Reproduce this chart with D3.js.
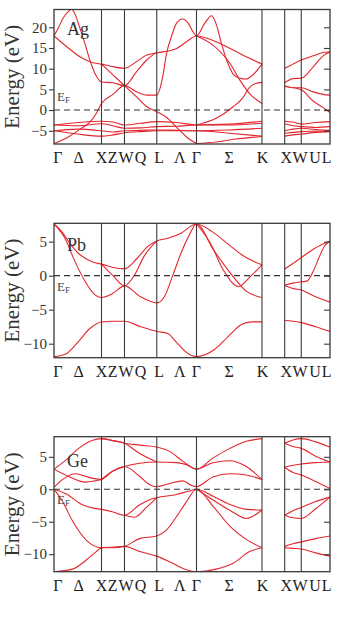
<!DOCTYPE html>
<html>
<head>
<meta charset="utf-8">
<script src="https://cdn.jsdelivr.net/npm/d3@7"></script>
<style>
  body { margin: 0; background: #fff; }
  svg { display: block; font-family: "Liberation Serif", "DejaVu Serif", serif; }
</style>
</head>
<body>
<svg id="chart" width="337" height="621"></svg>
<script>
// k-path: Γ X W L Γ K | X W L  (distance along path, Γ-X = 1)
const symIndex = [0, 1, 2, 3, 4, 5, 6, 7, 8];
const symDist = [0, 1, 1.484, 2.164, 3.0, 4.379, 4.857, 5.206, 5.811];

// tick labels along k (position in symmetry-index units)
const kLabels = [
    { t: "Γ", k: 0.08 }, { t: "Δ", k: 0.52 }, { t: "X", k: 1.0 }, { t: "Z", k: 1.48 },
    { t: "W", k: 2.05 }, { t: "Q", k: 2.5 }, { t: "L", k: 3.06 }, { t: "Λ", k: 3.58 },
    { t: "Γ", k: 4.0 }, { t: "Σ", k: 4.5 }, { t: "K", k: 5.02 }, { t: "X", k: 6.1 },
    { t: "W", k: 6.93 }, { t: "U", k: 7.48 }, { t: "L", k: 7.88 }
];

const agTicks = [-5, 0, 5, 10, 15, 20];
const pbTicks = [-10, -5, 0, 5];
const geTicks = [-10, -5, 0, 5];

const agRange = [-8.2, 24.3];
const pbRange = [-12.06, 7.7];
const geRange = [-12.7, 8.1];

// bands: [symmetry index, energy eV]
const agBands = [
    [[0,17.9],[0.09,19.8],[0.19,22.2],[0.3,23.8],[0.37,24.4],[0.45,23.0],[0.545,19.8],[0.65,16.1],[0.755,12.1],[0.86,8.9],[1,6.8],[1.5,6.6],[2,5.9],[2.375,9.3],[2.69,12.1],[3,14.0]],
    [[0,17.9],[0.27,15.3],[0.545,12.9],[0.755,11.7],[1,11.1],[1.5,10.5],[2,10.1],[2.375,11.7],[2.69,13.3],[3,13.8],[3.5,14.9],[3.75,16.5],[4,17.9],[4.3,16.5],[4.56,14.5],[4.81,12.5],[5,11.1]],
    [[1,11.1],[1.5,8.5],[2,5.9],[2.375,3.2],[2.69,0.8],[3,-0.4],[3.25,-1.8],[3.5,-4.2],[3.75,-6.5],[4,-8.1]],
    [[0,-8.1],[0.3,-6.5],[0.55,-4.6],[0.75,-3.0],[0.88,-1.0],[1,1.6],[1.5,3.8],[2,5.9],[2.375,4.4],[2.69,3.6],[3,3.6],[3.16,8.6],[3.24,13.4],[3.37,17.8],[3.5,21.0],[3.65,22.0],[3.79,21.0],[3.92,18.8],[4,17.9],[4.127,21.0],[4.23,22.8],[4.305,20.6],[4.38,16.1],[4.46,12.1],[4.56,8.7],[4.66,7.7],[4.76,7.5],[4.86,8.5],[5,11.1]],
    [[4,17.9],[4.25,15.7],[4.51,11.3],[4.66,7.3],[4.81,4.0],[5,1.6]],
    [[4,-3.6],[4.3,-2.0],[4.56,0.8],[4.71,3.0],[4.8,5.3],[4.9,6.4],[5,6.7]],
    [[0,-3.6],[0.5,-3.0],[1,-2.7],[1.5,-2.9],[2,-3.6],[2.5,-3.2],[3,-2.8],[3.5,-3.0],[4,-3.6],[4.5,-3.4],[5,-2.7]],
    [[0,-3.6],[0.5,-3.8],[1,-3.3],[1.5,-3.8],[2,-4.4],[2.5,-4.3],[3,-4.0],[3.5,-3.9],[4,-3.6],[4.5,-3.6],[5,-3.2]],
    [[0,-5.0],[0.5,-4.6],[1,-5.0],[1.5,-5.3],[2,-5.0],[2.5,-4.9],[3,-4.8],[3.5,-4.9],[4,-5.0],[4.5,-4.8],[5,-4.4]],
    [[0,-5.0],[0.5,-5.8],[1,-6.3],[1.5,-6.0],[2,-5.5],[2.5,-5.2],[3,-5.0],[3.5,-5.0],[4,-5.0],[4.5,-5.6],[5,-6.3]],
    [[4,-8.1],[4.3,-7.7],[4.6,-7.0],[4.85,-6.6],[5,-6.4]],
    [[6,10.1],[6.5,11.1],[7,12.1],[7.41,13.1],[7.76,13.9],[8,14.1]],
    [[6,6.6],[6.5,7.6],[7,7.7],[7.41,10.4],[7.76,13.1],[8,14.0]],
    [[6,5.9],[6.5,5.4],[7,5.4],[7.41,4.4],[7.76,3.8],[8,3.6]],
    [[6,5.7],[7,4.9],[7.41,2.2],[7.76,0.6],[8,-0.6]],
    [[6,-2.7],[6.5,-2.9],[7,-3.4],[7.5,-3.0],[8,-2.8]],
    [[6,-3.3],[6.5,-3.8],[7,-4.0],[7.5,-4.2],[8,-4.0]],
    [[6,-5.0],[6.5,-4.6],[7,-4.4],[7.5,-4.7],[8,-4.9]],
    [[6,-5.6],[6.5,-5.4],[7,-5.2],[7.5,-5.1],[8,-5.0]],
    [[6,-6.3],[6.5,-6.0],[7,-5.8],[7.5,-5.4],[8,-5.2]]
];

const pbBands = [
    [[0,-11.9],[0.25,-11.5],[0.5,-9.8],[0.75,-7.8],[1,-6.8],[1.5,-6.7],[2,-6.7],[2.5,-7.5],[3,-8.2],[3.275,-8.5],[3.525,-10.0],[3.775,-11.4],[4,-11.9],[4.27,-10.9],[4.48,-9.0],[4.68,-7.2],[4.84,-6.8],[5,-6.8]],
    [[0,7.6],[0.16,6.5],[0.33,4.8],[0.51,3.3],[0.65,2.6],[0.82,2.0],[1,1.7],[1.5,1.2],[2,1.0],[2.4,2.6],[2.72,4.3],[3,5.1],[3.28,5.5],[3.6,6.2],[4,7.6],[4.25,6.4],[4.5,4.5],[4.75,2.7],[5,1.6]],
    [[0,7.6],[0.23,5.5],[0.44,2.1],[0.66,-0.9],[0.83,-2.6],[1,-3.2],[1.5,-2.6],[2,-1.5],[2.5,-3.1],[3,-4.0],[3.19,-3.1],[3.4,0],[3.61,3.3],[3.82,6.0],[4,7.6],[4.26,3.8],[4.52,0.35],[4.77,-2.35],[5,-3.2]],
    [[1,1.7],[1.5,0],[2,-1.5],[2.3,0],[2.6,2.8],[3,5.1]],
    [[4,7.6],[4.21,4.8],[4.41,0.84],[4.64,-1.6],[4.82,-0.15],[5,1.6]],
    [[6,0.97],[6.5,1.8],[7,2.65],[7.46,4.0],[8,5.1]],
    [[6,-1.4],[6.5,-1.1],[7,-0.9],[7.2,-0.8],[7.4,0.5],[7.6,2.5],[7.8,4.3],[8,5.1]],
    [[6,-1.4],[6.5,-1.9],[7,-2.1],[7.44,-3.0],[8,-3.9]],
    [[6,-6.6],[6.5,-6.7],[7,-6.9],[7.5,-7.5],[8,-8.2]]
];

const geBands = [
    [[0,-12.7],[0.39,-12.3],[0.68,-10.9],[0.89,-9.6],[1,-9.0],[1.5,-8.9],[2,-8.8],[2.47,-9.6],[3,-10.3],[3.33,-11.2],[3.66,-12.2],[4,-12.7],[4.3,-12.3],[4.56,-11.4],[4.81,-9.6],[5,-9.0]],
    [[0,0],[0.15,-1.5],[0.4,-5.0],[0.7,-8.0],[1,-9.0],[1.5,-9.0],[2,-8.8],[2.47,-7.6],[3,-7.2],[3.24,-6.3],[3.5,-4.2],[3.75,-1.9],[4,0],[4.26,-2.7],[4.52,-5.8],[4.77,-7.8],[5,-9.0]],
    [[0,0],[0.25,-0.7],[0.6,-2.4],[0.82,-2.9],[1,-3.1],[1.5,-3.5],[2,-4.0],[2.47,-2.4],[2.78,-1.6],[3,-1.3],[3.5,-0.8],[3.8,-0.3],[4,0],[4.26,-1.1],[4.52,-2.4],[4.77,-3.1],[5,-3.2]],
    [[2,-4.0],[2.32,-4.3],[2.68,-2.8],[3,-1.3]],
    [[4,0],[4.26,-1.7],[4.52,-3.3],[4.76,-4.5],[5,-3.2]],
    [[0,3.1],[0.25,4.5],[0.52,6.3],[0.8,7.5],[1,7.8],[1.5,7.5],[2,7.1],[2.47,6.8],[3,6.5],[3.33,5.8],[3.66,4.3],[4,3.1],[4.25,4.8],[4.51,6.3],[4.76,7.4],[5,7.8]],
    [[0,3.1],[0.3,2.0],[0.66,1.1],[0.87,1.3],[1,1.5],[1.5,2.8],[2,3.5],[2.47,4.0],[3,4.2],[3.5,4.1],[3.75,3.8],[4,3.1],[4.25,4.1],[4.51,4.4],[4.76,3.5],[5,1.5]],
    [[0,0.3],[0.2,1.6],[0.45,2.4],[0.75,1.8],[1,1.5]],
    [[1,7.8],[1.5,7.5],[2,7.1],[2.47,5.5],[3,4.2]],
    [[1,1.5],[1.5,2.8],[2,3.5],[2.47,2.0],[2.78,0.7],[3,0.4],[3.33,0.9],[3.66,1.3],[3.87,0.6],[4,0.4],[4.25,1.9],[4.51,2.4],[4.76,2.2],[5,1.5]],
    [[6,7.1],[6.5,7.6],[7,7.8],[7.5,7.3],[8,6.5]],
    [[6,7.1],[6.5,6.6],[7,6.3],[7.5,5.1],[8,4.2]],
    [[6,3.4],[6.5,3.7],[7,3.9],[7.5,4.1],[8,4.2]],
    [[6,3.4],[6.5,2.6],[7,2.2],[7.5,1.2],[8,0.1]],
    [[6,-4.0],[6.5,-3.3],[7,-2.8],[7.5,-1.9],[8,-1.2]],
    [[6,-4.0],[6.5,-4.4],[7,-4.5],[7.5,-3.0],[8,-1.2]],
    [[6,-8.8],[6.5,-8.4],[7,-8.1],[7.5,-7.6],[8,-7.2]],
    [[6,-9.0],[6.5,-9.1],[7,-9.2],[7.5,-9.8],[8,-10.3]]
];

const panels = [
    { name: "Ag", bands: agBands, range: agRange, ticks: agTicks, top: 9.5, bottom: 144, nameY: 35, efY: 101 },
    { name: "Pb", bands: pbBands, range: pbRange, ticks: pbTicks, top: 223.3, bottom: 357.7, nameY: 251, efY: 291 },
    { name: "Ge", bands: geBands, range: geRange, ticks: geTicks, top: 436.7, bottom: 571.7, nameY: 467, efY: 504 }
];

const svg = d3.select("#chart");
const left = 54, right = 330;
const frameColor = "#3a3a3a";
const bandColor = "#e3262e";

const kScale = d3.scaleLinear()
    .domain([0, symDist[symDist.length - 1]])
    .range([left, right]);

// symmetry index -> pixel (piecewise linear)
const x = d3.scaleLinear()
    .domain(symIndex)
    .range(symDist.map(d => kScale(d)));

panels.forEach((p, pi) => {
    const g = svg.append("g");
    const y = d3.scaleLinear().domain(p.range).range([p.bottom, p.top]);

    g.append("clipPath").attr("id", "clip" + pi)
        .append("rect")
        .attr("x", left).attr("y", p.top)
        .attr("width", right - left).attr("height", p.bottom - p.top);

    // Bands
    const line = d3.line()
        .x(d => x(d[0]))
        .y(d => y(d[1]))
        .curve(d3.curveMonotoneX);

    g.append("g")
        .attr("clip-path", `url(#clip${pi})`)
        .selectAll("path")
        .data(p.bands)
        .join("path")
        .attr("d", line)
        .attr("fill", "none")
        .attr("stroke", bandColor)
        .attr("stroke-width", 1.1);

    // Fermi level
    g.append("line")
        .attr("x1", left).attr("x2", right)
        .attr("y1", y(0)).attr("y2", y(0))
        .attr("stroke", "#333")
        .attr("stroke-width", 1.1)
        .attr("stroke-dasharray", "6,4");

    // Symmetry lines
    g.selectAll(".sym")
        .data(symIndex.slice(1, -1))
        .join("line")
        .attr("x1", d => x(d)).attr("x2", d => x(d))
        .attr("y1", p.top).attr("y2", p.bottom)
        .attr("stroke", frameColor)
        .attr("stroke-width", 1.1);

    // Frame
    g.append("rect")
        .attr("x", left).attr("y", p.top)
        .attr("width", right - left).attr("height", p.bottom - p.top)
        .attr("fill", "none")
        .attr("stroke", frameColor)
        .attr("stroke-width", 1.3);

    // Left axis (outward ticks)
    const axL = g.append("g")
        .attr("transform", `translate(${left},0)`)
        .call(d3.axisLeft(y).tickValues(p.ticks).tickSize(5).tickPadding(2));
    axL.select(".domain").remove();
    axL.selectAll("line").attr("stroke", frameColor).attr("stroke-width", 1.1);
    axL.selectAll("text")
        .attr("font-family", "Liberation Serif, serif")
        .attr("font-size", 15)
        .attr("fill", "#333");

    // Right axis (inward ticks)
    const axR = g.append("g")
        .attr("transform", `translate(${right},0)`)
        .call(d3.axisLeft(y).tickValues(p.ticks).tickSize(6).tickFormat(""));
    axR.select(".domain").remove();
    axR.selectAll("line").attr("stroke", frameColor).attr("stroke-width", 1.1);

    // y label
    g.append("text")
        .attr("transform", `translate(19,${(p.top + p.bottom) / 2}) rotate(-90)`)
        .attr("text-anchor", "middle")
        .attr("font-size", 21)
        .attr("fill", "#333")
        .text("Energy (eV)");

    // element name
    g.append("text")
        .attr("x", 67).attr("y", p.nameY)
        .attr("font-size", 18)
        .attr("fill", "#333")
        .text(p.name);

    // E_F
    const ef = g.append("text")
        .attr("x", 57).attr("y", p.efY)
        .attr("font-size", 13)
        .attr("fill", "#444");
    ef.append("tspan").text("E");
    ef.append("tspan").attr("font-size", 9).attr("dy", 2).text("F");

    // k labels
    g.selectAll(".klab")
        .data(kLabels)
        .join("text")
        .attr("x", d => x(d.k))
        .attr("y", p.bottom + 19)
        .attr("text-anchor", "middle")
        .attr("font-size", 16)
        .attr("fill", "#222")
        .text(d => d.t);
});
</script>
</body>
</html>
